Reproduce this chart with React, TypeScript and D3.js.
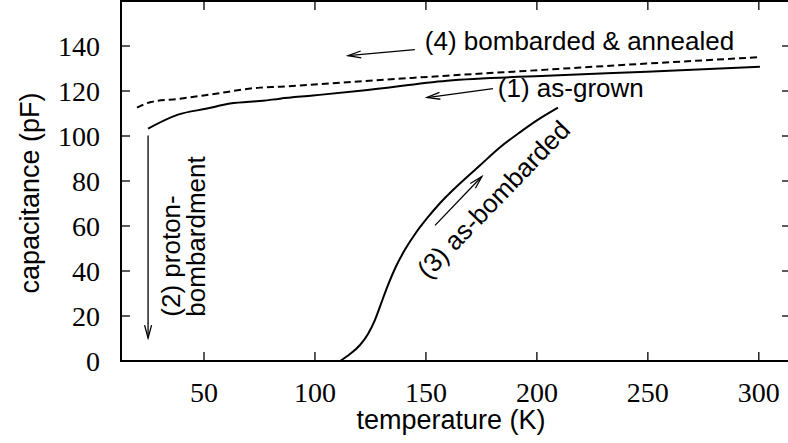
import React, { useEffect, useRef } from 'react';
import * as d3 from 'd3';

// (1) as-grown
const grownT = [24.8, 38.3, 51.4, 61.7, 76.6, 84.2, 99.1, 121.6, 159.5, 204.5, 249.5, 300.5];
const grownC = [103.3, 109.5, 112.2, 114.4, 115.7, 116.6, 118, 120.2, 124.6, 126.8, 128.6, 130.8];

// (4) bombarded & annealed
const annealT = [19.8, 25.7, 39.2, 52.7, 75.2, 84.2, 121.6, 159.5, 204.5, 249.5, 300];
const annealC = [112.6, 115, 116.6, 118.4, 121.5, 121.9, 124.4, 126.8, 129.5, 132.2, 135];

// (3) as-bombarded
const bombT = [111.3, 115.8, 120.3, 123.9, 127.0, 129.7, 132.9, 136.5, 140.5, 145.5, 150.9, 156.3, 165.3, 174.3, 183.3, 192.3, 201.4, 209.5];
const bombC = [0, 3.1, 7.1, 12.0, 18.2, 25.3, 33.7, 42.0, 49.4, 57.0, 63.9, 70.1, 78.9, 86.9, 94.9, 101.6, 107.8, 112.6];

const xTicks = [50, 100, 150, 200, 250, 300];
const yTicks = [0, 20, 40, 60, 80, 100, 120, 140];

const SANS = '"Liberation Sans", Arial, sans-serif';
const SERIF = '"Liberation Serif", "Times New Roman", serif';

export default function App() {
  const ref = useRef<SVGSVGElement>(null);

  useEffect(() => {
    const svg = d3.select(ref.current);
    svg.selectAll('*').remove();

    const x = d3.scaleLinear().domain([12.6, 314.5]).range([121, 791]);
    const y = d3.scaleLinear().domain([0, 160]).range([361, 1]);
    const [x0, x1] = x.range();
    const [y0, y1] = y.range();

    const defs = svg.append('defs');
    defs.append('marker')
      .attr('id', 'head')
      .attr('viewBox', '-14 -6 16 12')
      .attr('refX', 0).attr('refY', 0)
      .attr('markerWidth', 16).attr('markerHeight', 12)
      .attr('markerUnits', 'userSpaceOnUse')
      .attr('orient', 'auto')
      .append('path')
      .attr('d', 'M-13,-3.5 L0,0 L-13,3.5')
      .attr('fill', 'none').attr('stroke', '#000').attr('stroke-width', 1.3);

    // frame
    svg.append('rect')
      .attr('x', x0).attr('y', y1)
      .attr('width', x1 - x0).attr('height', y0 - y1)
      .attr('fill', 'none').attr('stroke', '#000').attr('stroke-width', 2);

    // ticks, inward on all sides
    const tk = 9;
    const g = svg.append('g').attr('stroke', '#000').attr('stroke-width', 1.3);
    xTicks.forEach((t) => {
      g.append('line').attr('x1', x(t)).attr('x2', x(t)).attr('y1', y0).attr('y2', y0 - tk);
      g.append('line').attr('x1', x(t)).attr('x2', x(t)).attr('y1', y1).attr('y2', y1 + tk);
    });
    yTicks.forEach((t) => {
      g.append('line').attr('x1', x0).attr('x2', x0 + tk).attr('y1', y(t)).attr('y2', y(t));
      g.append('line').attr('x1', x1).attr('x2', x1 - tk).attr('y1', y(t)).attr('y2', y(t));
    });

    // tick labels
    svg.selectAll('.xl').data(xTicks).join('text')
      .attr('x', (d) => x(d)).attr('y', 402)
      .attr('text-anchor', 'middle')
      .style('font-family', SERIF).style('font-size', '28px')
      .text((d) => d);
    svg.selectAll('.yl').data(yTicks).join('text')
      .attr('x', 100).attr('y', (d) => y(d) + 9.5)
      .attr('text-anchor', 'end')
      .style('font-family', SERIF).style('font-size', '28px')
      .text((d) => d);

    // axis titles
    svg.append('text')
      .attr('x', 451).attr('y', 429)
      .attr('text-anchor', 'middle')
      .style('font-family', SANS).style('font-size', '27px')
      .text('temperature (K)');
    svg.append('text')
      .attr('transform', 'translate(39,193) rotate(-90)')
      .attr('text-anchor', 'middle')
      .style('font-family', SANS).style('font-size', '27px')
      .text('capacitance (pF)');

    // curves
    const line = d3.line<[number, number]>()
      .x((d) => x(d[0])).y((d) => y(d[1]))
      .curve(d3.curveMonotoneX);
    const draw = (ts: number[], cs: number[], dash?: string) => {
      svg.append('path')
        .attr('d', line(ts.map((t, i) => [t, cs[i]] as [number, number])))
        .attr('fill', 'none').attr('stroke', '#000').attr('stroke-width', 2)
        .attr('stroke-dasharray', dash || null);
    };
    draw(grownT, grownC);
    draw(annealT, annealC, '7,4');
    draw(bombT, bombC);

    // arrows
    const arrow = (a: [number, number], b: [number, number]) => {
      svg.append('line')
        .attr('x1', x(a[0])).attr('y1', y(a[1]))
        .attr('x2', x(b[0])).attr('y2', y(b[1]))
        .attr('stroke', '#000').attr('stroke-width', 1.3)
        .attr('marker-end', 'url(#head)');
    };
    arrow([145.0, 138.4], [114.9, 135.7]);
    arrow([180.2, 121.1], [150.5, 117.1]);
    arrow([24.8, 100.2], [24.8, 10.2]);
    arrow([154.1, 60.3], [175.2, 82.0]);

    // labels
    const label = (tx: string, t: number, c: number, rot = 0) => {
      svg.append('text')
        .attr('transform', `translate(${x(t)},${y(c)}) rotate(${rot})`)
        .style('font-family', SANS).style('font-size', '26px')
        .text(tx);
    };
    label('(4) bombarded & annealed', 149.5, 138.1);
    label('(1) as-grown', 182.4, 117.5);
    label('(2) proton-', 39.2, 19.7, -90);
    label('bombardment', 50.5, 19.7, -90);
    label('(3) as-bombarded', 151.0, 36.0, -46);
  }, []);

  return (
    <svg ref={ref} width={788} height={443}
      style={{ position: 'absolute', left: 0, top: 0, background: '#fff' }} />
  );
}
